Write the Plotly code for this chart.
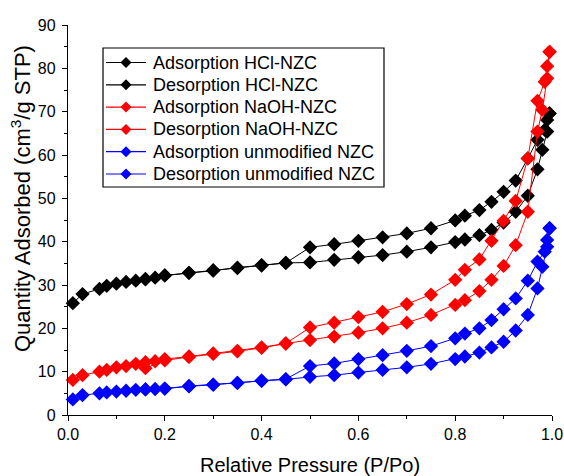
import plotly.graph_objects as go

# Relative pressure grids (P/Po)
p_ads = [0.01, 0.03, 0.065, 0.08, 0.10, 0.12, 0.14, 0.16, 0.18, 0.20, 0.25, 0.30,
         0.35, 0.40, 0.45, 0.50, 0.55, 0.60, 0.65, 0.70, 0.75, 0.80, 0.82, 0.85,
         0.875, 0.90, 0.925, 0.95, 0.97, 0.98, 0.99, 0.995]
p_des = [0.995, 0.99, 0.985, 0.97, 0.95, 0.925, 0.90, 0.875, 0.85, 0.82, 0.80,
         0.75, 0.70, 0.65, 0.60, 0.55, 0.50, 0.45, 0.40, 0.35, 0.30, 0.25, 0.20, 0.16]

# Quantity adsorbed (cm3/g STP)
hcl_ads = [25.8, 27.9, 29.1, 29.8, 30.3, 30.7, 31.0, 31.3, 31.7, 32.2, 32.8, 33.4,
           33.9, 34.5, 35.1, 35.2, 35.8, 36.4, 36.9, 37.7, 38.7, 39.9, 40.5, 41.5,
           42.7, 44.4, 46.9, 50.6, 56.7, 61.2, 65.4, 69.6]
hcl_des = [69.6, 68.1, 65.8, 63.5, 59.2, 54.1, 51.5, 49.2, 47.3, 46.0, 44.9,
           43.1, 41.9, 41.0, 40.2, 39.4, 38.7, 35.1, 34.6, 34.0, 33.3, 32.8, 32.2, 31.4]

naoh_ads = [8.1, 9.2, 10.0, 10.4, 11.0, 11.3, 11.8, 12.2, 12.4, 12.9, 13.5, 14.2,
            14.8, 15.6, 16.5, 17.3, 18.1, 19.0, 20.0, 21.3, 23.1, 25.4, 26.5, 28.6,
            31.2, 34.4, 39.2, 46.9, 65.4, 70.4, 77.7, 83.8]
naoh_des = [83.8, 80.5, 76.9, 72.5, 59.2, 49.4, 44.8, 40.2, 35.9, 33.5, 31.2,
            27.8, 25.6, 23.8, 22.6, 21.3, 20.2, 16.5, 15.5, 14.7, 14.1, 13.4, 12.6, 10.8]

nzc_ads = [3.6, 4.6, 5.0, 5.2, 5.4, 5.6, 5.8, 5.9, 6.0, 6.1, 6.7, 7.0,
           7.4, 7.9, 8.2, 8.8, 9.2, 9.8, 10.4, 11.0, 11.8, 12.9, 13.5, 14.4,
           15.6, 16.9, 19.5, 23.1, 29.2, 34.2, 38.8, 43.1]
nzc_des = [43.1, 40.4, 37.7, 35.4, 31.0, 26.9, 24.4, 21.9, 20.0, 18.8, 17.7,
           15.9, 14.8, 13.8, 12.9, 11.9, 11.3, 8.3, 7.9, 7.4, 7.0, 6.6, 6.1, 5.9]

names = ["Adsorption HCl-NZC", "Desorption HCl-NZC",
         "Adsorption NaOH-NZC", "Desorption NaOH-NZC",
         "Adsorption unmodified NZC", "Desorption unmodified NZC"]
xs = [p_ads, p_des, p_ads, p_des, p_ads, p_des]
ys = [hcl_ads, hcl_des, naoh_ads, naoh_des, nzc_ads, nzc_des]
colors = ["black", "black", "red", "red", "blue", "blue"]

FONT = "Arial, Liberation Sans, sans-serif"

# Figure geometry (pixels)
W, H = 564, 476
ML, MR, MT, MB = 68, 12, 25, 61
PW, PH = W - ML - MR, H - MT - MB


def px(x):
    return (x - ML) / PW


def py(y):
    return (H - MB - y) / PH


fig = go.Figure()
for name, x, y, color in zip(names, xs, ys, colors):
    fig.add_trace(go.Scatter(
        x=x, y=y, name=name, mode="lines+markers",
        line=dict(color=color, width=1),
        marker=dict(symbol="diamond", size=11, color=color, line=dict(width=0)),
        cliponaxis=False, showlegend=False,
    ))

axis_common = dict(
    showline=True, linecolor="black", linewidth=1.3, mirror=False,
    ticks="outside", ticklen=5, tickwidth=1.2, tickcolor="black",
    showgrid=False, zeroline=False, automargin=False,
    tickfont=dict(family=FONT, size=16, color="black"),
)

fig.update_xaxes(
    range=[0, 1], tick0=0, dtick=0.2, tickformat=".1f",
    minor=dict(ticks="outside", ticklen=3, tickwidth=1.2, tickcolor="black", dtick=0.1),
    **axis_common,
)
fig.update_yaxes(
    range=[0, 90], tick0=0, dtick=10, ticklabelstandoff=3,
    minor=dict(ticks="outside", ticklen=3, tickwidth=1.2, tickcolor="black", dtick=5),
    **axis_common,
)

annotations = [
    dict(text="Relative Pressure (P/Po)", xref="paper", yref="paper",
         x=0.5, y=py(465), xanchor="center", yanchor="middle", showarrow=False,
         font=dict(family=FONT, size=20, color="black")),
    dict(text="Quantity Adsorbed (cm<sup>3</sup>/g STP)", xref="paper", yref="paper",
         x=px(21), y=py(199), xanchor="center", yanchor="middle", showarrow=False,
         textangle=-90, font=dict(family=FONT, size=22, color="black")),
]

# Legend: framed box with a line + diamond sample and a label per series
shapes = [dict(type="rect", xref="paper", yref="paper",
               x0=px(103), x1=px(384), y0=py(187), y1=py(48),
               line=dict(color="black", width=1.2), fillcolor="white", layer="above")]
row0, row_step = 62.5, 22.3
for i, (name, color) in enumerate(zip(names, colors)):
    yc = row0 + i * row_step
    shapes.append(dict(type="line", xref="paper", yref="paper",
                       x0=px(106), x1=px(146), y0=py(yc), y1=py(yc),
                       line=dict(color=color, width=1.2), layer="above"))
    shapes.append(dict(type="path", xref="paper", yref="paper",
                       xsizemode="pixel", ysizemode="pixel",
                       xanchor=px(126), yanchor=py(yc),
                       path="M 0 5.5 L 5.5 0 L 0 -5.5 L -5.5 0 Z",
                       fillcolor=color, line=dict(width=0), layer="above"))
    annotations.append(dict(text=name, xref="paper", yref="paper",
                            x=px(151), y=py(yc), xanchor="left", yanchor="middle",
                            showarrow=False,
                            font=dict(family=FONT, size=18, color="black")))

fig.update_layout(
    width=W, height=H,
    margin=dict(l=ML, r=MR, t=MT, b=MB),
    paper_bgcolor="white", plot_bgcolor="white",
    showlegend=False,
    shapes=shapes, annotations=annotations,
)

fig.write_html("out.html")
